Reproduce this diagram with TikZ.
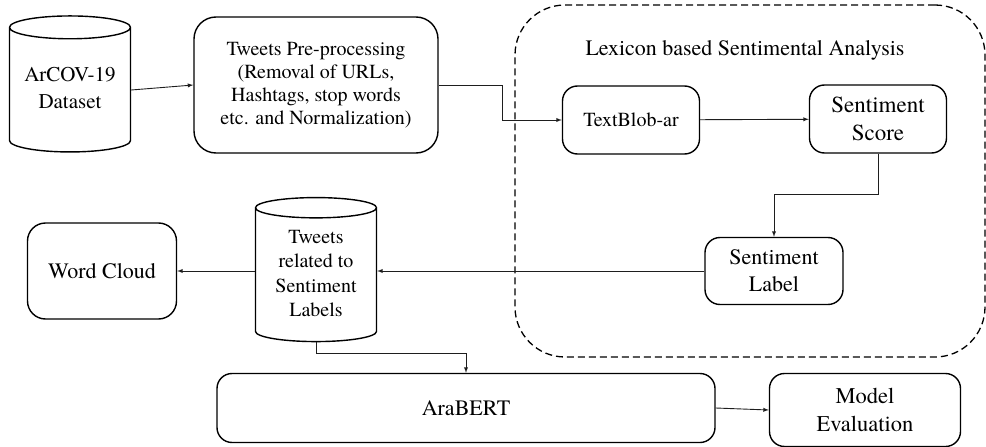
\documentclass[tikz,border=0pt]{standalone}
\usepackage{fontspec}
\setmainfont{TeX Gyre Termes}
\usetikzlibrary{arrows,shapes,positioning}
\definecolor{lnblack}{RGB}{30,30,30}
\tikzstyle{arrow} = [->,>=latex,color=lnblack,line width=0.9pt]
\tikzstyle{block} = [draw,line width=1.4pt,rounded corners=15pt,align=center,inner sep=0pt]
\tikzstyle{db} = [draw,line width=1.4pt,cylinder,shape border rotate=90,aspect=0.25,align=center,inner sep=0pt]

\begin{document}
\begin{tikzpicture}[x=1pt,y=-1pt]
\useasboundingbox (0,0) rectangle (986,447);
% Lexicon region
\node[draw,dashed,dash pattern=on 7pt off 4pt,line width=1.3pt,rounded corners=50pt,minimum width=470pt,minimum height=352pt] (lexbox) at (750,181) {};
\node[font=\fontsize{22}{26}\selectfont] (lextitle) at (745,50) {Lexicon based Sentimental Analysis};

% Top row
\node[db,minimum width=121pt,minimum height=136pt,font=\fontsize{21}{27}\selectfont] (arcov) at (70,90) {\raisebox{-5pt}{\begin{tabular}{@{}c@{}}ArCOV-19\\Dataset\end{tabular}}};
\node[block,rounded corners=22pt,minimum width=244pt,minimum height=136pt,font=\fontsize{20}{23}\selectfont] (prep) at (316,85) {Tweets Pre-processing\\(Removal of URLs,\\Hashtags, stop words\\etc. and Normalization)};
\node[block,minimum width=137pt,minimum height=68pt,font=\fontsize{20}{27}\selectfont] (textblob) at (631,120) {TextBlob-ar};
\node[block,minimum width=137pt,minimum height=68pt,font=\fontsize{23}{28}\selectfont] (score) at (878,119) {Sentiment\\Score};

% Middle row
\node[block,minimum width=138pt,minimum height=67pt,font=\fontsize{22}{27}\selectfont] (label) at (774,271) {Sentiment\\Label};
\node[db,minimum width=121pt,minimum height=144pt,font=\fontsize{20}{24.5}\selectfont] (tweets) at (316,275) {\raisebox{-4pt}{\begin{tabular}{@{}c@{}}Tweets\\related to\\Sentiment\\Labels\end{tabular}}};
\node[block,rounded corners=18pt,minimum width=149pt,minimum height=96pt,font=\fontsize{22}{26}\selectfont] (wordcloud) at (102,271) {Word Cloud};

% Bottom row
\node[block,minimum width=498pt,minimum height=69pt,font=\fontsize{22}{26}\selectfont] (arabert) at (466,408) {AraBERT};
\node[block,minimum width=191pt,minimum height=73pt,font=\fontsize{22.5}{28}\selectfont] (model) at (865,410) {Model\\Evaluation};

% Connectors
\draw[arrow] (arcov.east) -- (prep.west);
\draw[arrow] (prep.east) -- ([xshift=64pt]prep.east) |- (textblob.west);
\draw[arrow] (textblob) -- (score);
\draw[arrow] (score.south) -- ++(0,41) -| (label.north);
\draw[arrow] (label.west) -- (label.west -| tweets.east);
\draw[arrow] (wordcloud.east -| tweets.west) -- (wordcloud.east);
\draw[arrow] (tweets.south) -- ++(0,11) -| (arabert.north);
\draw[arrow] (arabert.east) -- (model.west);
\end{tikzpicture}
\end{document}
